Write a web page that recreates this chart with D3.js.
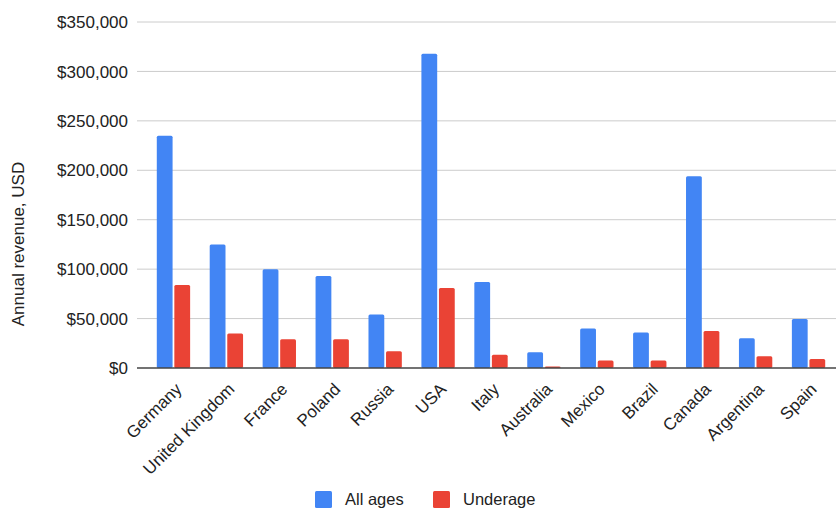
<!DOCTYPE html>
<html>
<head>
<meta charset="utf-8">
<script src="https://cdn.jsdelivr.net/npm/d3@7"></script>
<style>
  body { margin: 0; background: #fff; }
  text { font-family: "Liberation Sans", Arial, sans-serif; }
</style>
</head>
<body>
<div id="chart"></div>
<script>
// Chart data
const countries = ["Germany", "United Kingdom", "France", "Poland", "Russia", "USA", "Italy",
    "Australia", "Mexico", "Brazil", "Canada", "Argentina", "Spain"];
const allAges = [235000, 125000, 100000, 93000, 54000, 318000, 87000, 16000, 40000, 36000, 194000, 30000, 49500];
const underage = [84000, 35000, 29000, 29000, 17000, 81000, 13500, 1500, 7500, 7500, 37500, 12000, 9000];
const seriesNames = ["All ages", "Underage"];
const yTicks = [0, 50000, 100000, 150000, 200000, 250000, 300000, 350000];

const colors = ["#4285F4", "#EA4335"];
const width = 836;
const height = 510;

const svg = d3.select("#chart")
    .append("svg")
    .attr("width", width)
    .attr("height", height);

// Scales
const x = d3.scaleBand()
    .domain(countries)
    .range([147, 835])
    .paddingInner(0.37)
    .paddingOuter(0.185);

const xSub = d3.scaleBand()
    .domain(seriesNames)
    .range([0, x.bandwidth()])
    .paddingInner(0.1);

const y = d3.scaleLinear()
    .domain([0, 350000])
    .range([368, 22]);

// Gridlines
svg.append("g")
    .selectAll("line")
    .data(yTicks.slice(1))
    .enter()
    .append("line")
    .attr("x1", 137)
    .attr("x2", 836)
    .attr("y1", d => y(d))
    .attr("y2", d => y(d))
    .attr("stroke", "#cccccc")
    .attr("stroke-width", 1);

// Y axis labels
const fmt = d3.format("$,");
svg.append("g")
    .selectAll("text")
    .data(yTicks)
    .enter()
    .append("text")
    .attr("x", 128)
    .attr("y", d => y(d))
    .attr("dy", "0.36em")
    .attr("text-anchor", "end")
    .style("font-size", "17px")
    .style("fill", "#222")
    .text(d => fmt(d));

// Bars
const rows = countries.map((c, i) => ({ country: c, values: [allAges[i], underage[i]] }));

const groups = svg.append("g")
    .selectAll("g")
    .data(rows)
    .enter()
    .append("g")
    .attr("transform", d => `translate(${x(d.country)},0)`);

groups.selectAll("rect")
    .data(d => d.values.map((v, j) => ({ series: seriesNames[j], value: v, j })))
    .enter()
    .append("rect")
    .attr("x", d => xSub(d.series))
    .attr("y", d => y(d.value))
    .attr("width", xSub.bandwidth())
    .attr("height", d => y(0) - y(d.value))
    .attr("rx", 1.5)
    .attr("fill", d => colors[d.j]);

// Baseline
svg.append("line")
    .attr("x1", 137)
    .attr("x2", 836)
    .attr("y1", y(0))
    .attr("y2", y(0))
    .attr("stroke", "#444")
    .attr("stroke-width", 1.5);

// X axis labels
svg.append("g")
    .selectAll("text")
    .data(countries)
    .enter()
    .append("text")
    .attr("transform", d => `translate(${x(d) + x.bandwidth() / 2 + 5},${386}) rotate(-45)`)
    .attr("text-anchor", "end")
    .attr("dy", "0.35em")
    .style("font-size", "17px")
    .style("fill", "#222")
    .text(d => d);

// Y axis title
svg.append("text")
    .attr("transform", "rotate(-90)")
    .attr("x", -244)
    .attr("y", 24)
    .attr("text-anchor", "middle")
    .style("font-size", "17px")
    .style("fill", "#222")
    .text("Annual revenue, USD");

// Legend
const legend = svg.append("g")
    .attr("transform", "translate(315,491)");

const legendX = [0, 118];
seriesNames.forEach((name, i) => {
    legend.append("rect")
        .attr("x", legendX[i])
        .attr("y", 0)
        .attr("width", 17)
        .attr("height", 17)
        .attr("rx", 1.5)
        .attr("fill", colors[i]);
    legend.append("text")
        .attr("x", legendX[i] + 30)
        .attr("y", 8.5)
        .attr("dy", "0.35em")
        .style("font-size", "16.5px")
        .style("fill", "#222")
        .text(name);
});
</script>
</body>
</html>
